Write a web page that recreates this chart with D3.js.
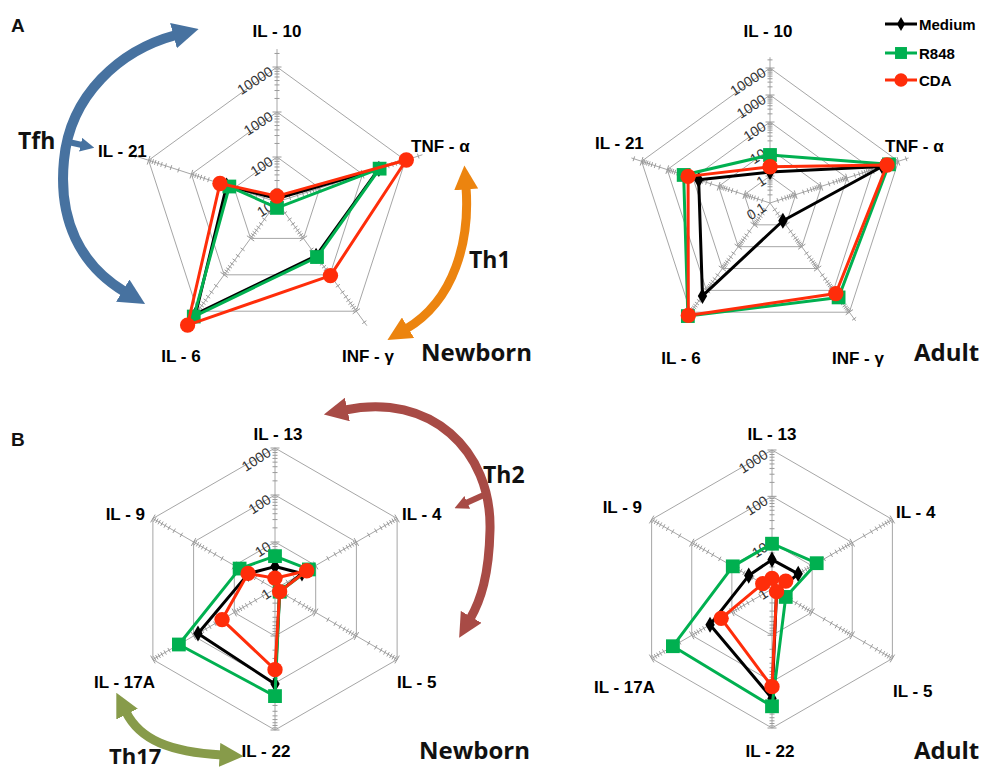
<!DOCTYPE html>
<html>
<head>
<meta charset="utf-8">
<script src="https://cdn.jsdelivr.net/npm/d3@7"></script>
<style>
  body { margin: 0; background: #fff; }
  svg text { font-family: "Liberation Sans", Arial, sans-serif; }
</style>
</head>
<body>
<svg id="fig" width="998" height="773"></svg>
<script>
// =========================
// DATA
// =========================
const cytokinesA = ["IL - 10", "TNF - α", "INF - γ", "IL - 6", "IL - 21"];
const cytokinesB = ["IL - 13", "IL - 4", "IL - 5", "IL - 22", "IL - 17A", "IL - 9"];
const seriesNames = ["Medium", "R848", "CDA"];

const newbornA_medium = [12, 2400, 300, 12000, 150];
const newbornA_r848   = [7.4, 2500, 325, 14000, 130];
const newbornA_cda    = [13.5, 10500, 1050, 24000, 215];

const adultA_medium = [1.4, 2350, 0.65, 1800, 60];
const adultA_r848   = [6, 4300, 2100, 15000, 230];
const adultA_cda    = [2.2, 3600, 1400, 14000, 155];

const newbornB_medium = [3, 4.6, 1.3, 105, 78, 4.5];
const newbornB_r848   = [5, 6.8, 1.3, 190, 230, 7.4];
const newbornB_cda    = [1.7, 6, 1.3, 52, 20, 4.6];

const adultB_medium = [4.3, 4.5, 1.3, 230, 35, 3.8];
const adultB_r848   = [9.5, 13, 2.2, 340, 295, 9.5];
const adultB_cda    = [1.7, 2.2, 1.3, 128, 18.5, 1.7];

const ticksNewbornA = [10, 100, 1000, 10000];
const ticksAdultA   = [0.1, 1, 10, 100, 1000, 10000];
const ticksB        = [1, 10, 100, 1000];

// =========================
// STYLE
// =========================
const colors = { Medium: "#000000", R848: "#00b050", CDA: "#ff2d0a" };
const symbols = { Medium: d3.symbolDiamond, R848: d3.symbolSquare, CDA: d3.symbolCircle };
const symSize = { Medium: 75, R848: 190, CDA: 185 };
const gridColor = "#a6a6a6";
const tickColor = "#9a9a9a";

const svg = d3.select("#fig");

// =========================
// RADAR
// =========================
function drawRadar(cfg) {
  const g = svg.append("g");
  const n = cfg.axes.length;
  const ticks = cfg.ticks;
  const r = d3.scaleLog()
    .domain([ticks[0], ticks[ticks.length - 1]])
    .range([0, cfg.R]);              // not clamped: values under the minimum go through the centre
  const ang = i => i * 2 * Math.PI / n;
  const pt = (rad, i) => [cfg.cx + rad * Math.sin(ang(i)), cfg.cy - rad * Math.cos(ang(i))];

  // grid polygons
  ticks.slice(1).forEach(t => {
    g.append("path")
      .attr("d", d3.line()(d3.range(n).map(i => pt(r(t), i))) + "Z")
      .attr("fill", "none")
      .attr("stroke", gridColor)
      .attr("stroke-width", 1);
  });

  // axes with log ticks
  const lo = Math.log10(ticks[0]);
  const hi = Math.log10(cfg.axisMax);
  d3.range(n).forEach(i => {
    const end = pt(r(cfg.axisMax), i);
    g.append("line")
      .attr("x1", cfg.cx).attr("y1", cfg.cy)
      .attr("x2", end[0]).attr("y2", end[1])
      .attr("stroke", gridColor).attr("stroke-width", 1);
    const wx = Math.cos(ang(i)), wy = Math.sin(ang(i));
    for (let d = lo; d <= Math.ceil(hi); d++) {
      for (let k = 1; k <= 9; k++) {
        const v = Math.pow(10, d) * k;
        if (Math.log10(v) > hi + 1e-6 || (k === 1 && d === lo)) continue;
        const p = pt(r(v), i);
        const h = k === 1 ? 4.5 : 2.5;
        g.append("line")
          .attr("x1", p[0] - wx * h).attr("y1", p[1] - wy * h)
          .attr("x2", p[0] + wx * h).attr("y2", p[1] + wy * h)
          .attr("stroke", tickColor).attr("stroke-width", 1);
      }
    }
  });

  // tick labels on first axis
  ticks.forEach(t => {
    const p = pt(r(t), 0);
    g.append("text")
      .attr("transform", `translate(${p[0] - 3},${p[1] + 7}) rotate(-33)`)
      .attr("text-anchor", "end")
      .style("font-size", "14px")
      .style("fill", "#333")
      .text(String(t));
  });

  // series
  cfg.series.forEach((vals, si) => {
    const name = seriesNames[si];
    const pts = vals.map((v, i) => pt(r(v), i));
    g.append("path")
      .attr("d", d3.line()(pts) + "Z")
      .attr("fill", "none")
      .attr("stroke", colors[name])
      .attr("stroke-width", 3)
      .attr("stroke-linejoin", "round");
    g.selectAll(null)
      .data(pts)
      .enter()
      .append("path")
      .attr("transform", d => `translate(${d[0]},${d[1]})`)
      .attr("d", d3.symbol().type(symbols[name]).size(symSize[name]))
      .attr("fill", colors[name]);
  });

  // axis labels
  cfg.axes.forEach((lab, i) => {
    const L = cfg.labelPos[i];
    g.append("text")
      .attr("x", L[0]).attr("y", L[1])
      .attr("text-anchor", L[2])
      .style("font-size", "17px")
      .style("font-weight", "bold")
      .style("fill", "#000")
      .text(lab);
  });
}

drawRadar({
  cx: 277, cy: 202, R: 135, ticks: ticksNewbornA, axisMax: 25000,
  axes: cytokinesA,
  series: [newbornA_medium, newbornA_r848, newbornA_cda],
  labelPos: [[277, 37, "middle"], [411, 152, "start"], [342, 362, "start"], [181, 362, "middle"], [98, 157, "start"]]
});
drawRadar({
  cx: 770, cy: 203, R: 135, ticks: ticksAdultA, axisMax: 25000,
  axes: cytokinesA,
  series: [adultA_medium, adultA_r848, adultA_cda],
  labelPos: [[768, 37, "middle"], [885, 152, "start"], [832, 364, "start"], [681, 364, "middle"], [595, 149, "start"]]
});
drawRadar({
  cx: 275, cy: 589, R: 141, ticks: ticksB, axisMax: 1000,
  axes: cytokinesB,
  series: [newbornB_medium, newbornB_r848, newbornB_cda],
  labelPos: [[278, 440, "middle"], [402, 520, "start"], [397, 688, "start"], [266, 757, "middle"], [155, 688, "end"], [145, 520, "end"]]
});
drawRadar({
  cx: 772, cy: 589, R: 139, ticks: ticksB, axisMax: 1000,
  axes: cytokinesB,
  series: [adultB_medium, adultB_r848, adultB_cda],
  labelPos: [[772, 440, "middle"], [896, 518, "start"], [893, 697, "start"], [770, 757, "middle"], [655, 693, "end"], [642, 513, "end"]]
});

// =========================
// LEGEND
// =========================
const legend = svg.append("g").attr("transform", "translate(885,0)");
seriesNames.forEach((name, i) => {
  const y = [24, 53, 80][i];
  legend.append("line")
    .attr("x1", 0).attr("x2", 32).attr("y1", y).attr("y2", y)
    .attr("stroke", colors[name]).attr("stroke-width", 3);
  legend.append("path")
    .attr("transform", `translate(16,${y})`)
    .attr("d", d3.symbol().type(symbols[name]).size(symSize[name] * 0.75))
    .attr("fill", colors[name]);
  legend.append("text")
    .attr("x", 34).attr("y", y + 6)
    .style("font-size", "15px").style("font-weight", "bold")
    .text(name);
});

// =========================
// ANNOTATIONS (arrows, panel letters, group labels)
// =========================
const defs = svg.append("defs");
function arrowMarker(id, color, size) {
  defs.append("marker")
    .attr("id", id)
    .attr("viewBox", "0 0 10 10")
    .attr("refX", 1).attr("refY", 5)
    .attr("markerUnits", "userSpaceOnUse")
    .attr("markerWidth", size).attr("markerHeight", size)
    .attr("orient", "auto-start-reverse")
    .append("path")
    .attr("d", "M0,0 L10,5 L0,10 Z")
    .attr("fill", color);
}
const arrows = [
  { id: "blue", color: "#4772a0", w: 10, head: 26, both: true, d: "M176,35 C120,50 70,95 64,160 C58,220 80,265 125,292" },
  { id: "blueS", color: "#4772a0", w: 6, head: 14, both: false, d: "M64,141 L82,145" },
  { id: "orange", color: "#ec840f", w: 9, head: 24, both: true, d: "M466,187 C470,240 455,300 406,329" },
  { id: "brown", color: "#a84b46", w: 9, head: 24, both: true, d: "M345,410 C430,392 492,450 490,530 C489,575 481,600 470,619" },
  { id: "brownS", color: "#a84b46", w: 6, head: 14, both: false, d: "M486,494 L466,503" },
  { id: "olive", color: "#879b4a", w: 9, head: 24, both: true, d: "M126,712 C140,740 170,752 222,755" }
];
arrows.forEach(a => {
  arrowMarker("m-" + a.id, a.color, a.head);
  const p = svg.append("path")
    .attr("d", a.d)
    .attr("fill", "none")
    .attr("stroke", a.color)
    .attr("stroke-width", a.w)
    .attr("marker-end", `url(#m-${a.id})`);
  if (a.both) p.attr("marker-start", `url(#m-${a.id})`);
});

const bigText = [
  ["A", 11, 32, 19, "Liberation Sans"],
  ["B", 11, 446, 19, "Liberation Sans"],
  ["Tfh", 18, 149, 23, "Open Sans"],
  ["Th1", 469, 268, 23, "Open Sans"],
  ["Th2", 483, 483, 23, "Open Sans"],
  ["Th17", 109, 764, 22, "Open Sans"],
  ["Newborn", 421, 361, 24, "Open Sans"],
  ["Adult", 914, 361, 24, "Open Sans"],
  ["Newborn", 419, 759, 24, "Open Sans"],
  ["Adult", 914, 759, 24, "Open Sans"]
];
bigText.forEach(([t, x, y, s, f]) => {
  svg.append("text")
    .attr("x", x).attr("y", y)
    .style("font-family", f)
    .style("font-size", s + "px")
    .style("font-weight", "bold")
    .style("fill", "#111")
    .text(t);
});
</script>
</body>
</html>
